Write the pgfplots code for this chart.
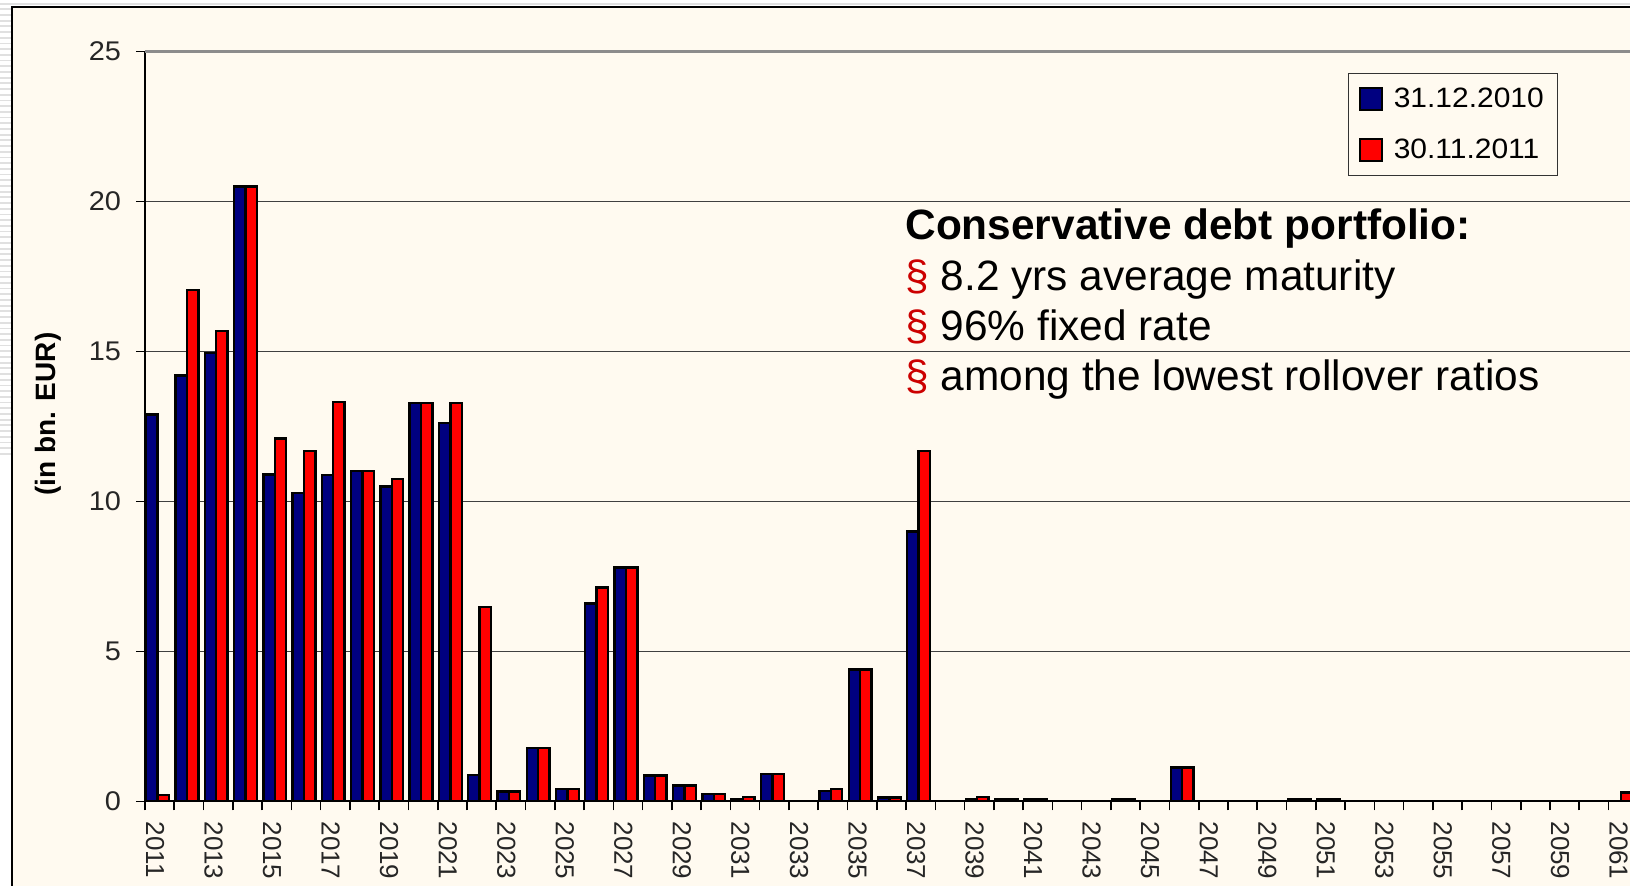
\documentclass[border=0pt]{standalone}
\usepackage{pgfplots}
\pgfplotsset{compat=1.18}
\usepackage{fontspec}
\setmainfont{Liberation Sans}
\newfontfamily\legfont[FakeStretch=1.07]{Liberation Sans}
\definecolor{cream}{HTML}{FFFAF0}
\definecolor{navybar}{HTML}{000080}
\definecolor{redbar}{HTML}{FF0000}
\definecolor{secred}{HTML}{CC0000}
\begin{document}
\begin{tikzpicture}
\useasboundingbox (0pt,0pt) rectangle (815pt,-443pt);
\clip (0pt,0pt) rectangle (815pt,-443pt);
\fill[white] (0pt,0pt) rectangle (815pt,-443pt);
\foreach \k in {0,...,78} {\fill[black!12] (0pt,{-4.2pt-\k*2.85pt}) rectangle (5.5pt,{-5.1pt-\k*2.85pt});}
\fill[black!12] (0pt,-1.4pt) rectangle (815pt,-2.4pt);
\fill[cream] (5.85pt,-3.35pt) rectangle (815pt,-443pt);
\draw[black,line width=1pt] (5.85pt,-443pt) -- (5.85pt,-3.35pt) -- (815pt,-3.35pt);
\begin{axis}[
  at={(72.5pt,-400.75pt)}, anchor=south west,
  scale only axis, width=746.4pt, height=375pt,
  xmin=-0.5, xmax=50.5, ymin=0, ymax=25,
  axis x line*=bottom, axis y line*=left,
  every non boxed x axis/.append style={x axis line style=-},
  every non boxed y axis/.append style={y axis line style=-},
  axis line style={black, line width=1pt},
  tick align=outside, major tick length=4.5pt,
  tick style={black, line width=0.8pt},
  ytick={0,5,10,15,20},
  extra y ticks={25},
  extra y tick style={grid style={black!45, line width=1.4pt}},
  ymajorgrids, grid style={black!75, line width=0.7pt},
  xtick={-0.5,0.5,...,50.5},
  xticklabels={2011,{},2013,{},2015,{},2017,{},2019,{},2021,{},2023,{},2025,{},2027,{},2029,{},2031,{},2033,{},2035,{},2037,{},2039,{},2041,{},2043,{},2045,{},2047,{},2049,{},2051,{},2053,{},2055,{},2057,{},2059,{},2061,{}},
  /pgf/number format/assume math mode=true,
  yticklabel style={font=\legfont\fontsize{13.5}{15}\selectfont, text=black!85, xshift=-4pt},
  xticklabel style={font=\fontsize{13}{15}\selectfont, text=black!85, xshift=5pt, yshift=-2pt, rotate=-90, anchor=west},
  ybar, bar width=5.7pt,
  legend style={at={(axis description cs:0.8059,0.9713)}, anchor=north west,
    draw=black!80, line width=0.6pt, fill=cream, font=\legfont\fontsize{14}{16}\selectfont,
    inner xsep=5pt, inner ysep=5pt, row sep=10.5pt},
  legend cell align=left,
]
\addplot[fill=navybar, draw=black, line width=1.2pt, bar shift=-3.85pt,
  legend image code/.code={\draw[fill=navybar, draw=black, line width=1pt] (0pt,-5.5pt) rectangle (11pt,5.5pt); \path (14.5pt,0pt);}]
  coordinates {(0,12.9) (1,14.2) (2,14.95) (3,20.5) (4,10.9) (5,10.28) (6,10.88) (7,11.02) (8,10.5) (9,13.28) (10,12.62) (11,0.88) (12,0.33) (13,1.78) (14,0.42) (15,6.6) (16,7.8) (17,0.86) (18,0.53) (19,0.25) (20,0.08) (21,0.92) (23,0.35) (24,4.4) (25,0.13) (26,9.0) (28,0.08) (29,0.08) (30,0.08) (33,0.08) (35,1.13) (39,0.08) (40,0.08)};
\addlegendentry{31.12.2010}
\addplot[fill=redbar, draw=black, line width=1.2pt, bar shift=1.85pt,
  legend image code/.code={\draw[fill=redbar, draw=black, line width=1pt] (0pt,-5.5pt) rectangle (11pt,5.5pt); \path (14.5pt,0pt);}]
  coordinates {(0,0.22) (1,17.05) (2,15.68) (3,20.5) (4,12.1) (5,11.68) (6,13.32) (7,11.02) (8,10.74) (9,13.28) (10,13.28) (11,6.48) (12,0.33) (13,1.78) (14,0.42) (15,7.13) (16,7.8) (17,0.86) (18,0.53) (19,0.25) (20,0.14) (21,0.92) (23,0.41) (24,4.4) (25,0.13) (26,11.68) (28,0.14) (29,0.08) (30,0.08) (33,0.08) (35,1.13) (39,0.08) (40,0.08) (50,0.3)};
\addlegendentry{30.11.2011}
\end{axis}
\node[rotate=90, font=\bfseries\fontsize{14}{16}\selectfont] at (24pt,-207pt) {(in bn. EUR)};
\begin{scope}[every node/.style={anchor=base west, inner sep=0pt, font=\fontsize{21.2}{24}\selectfont}]
\node at (452.5pt,-120pt) {\bfseries Conservative debt portfolio:};
\node at (452.5pt,-145.25pt) {{\color{secred}§} 8.2 yrs average maturity};
\node at (452.5pt,-170.25pt) {{\color{secred}§} 96\% fixed rate};
\node at (452.5pt,-195.5pt) {{\color{secred}§} among the lowest rollover ratios};
\end{scope}
\end{tikzpicture}
\end{document}
